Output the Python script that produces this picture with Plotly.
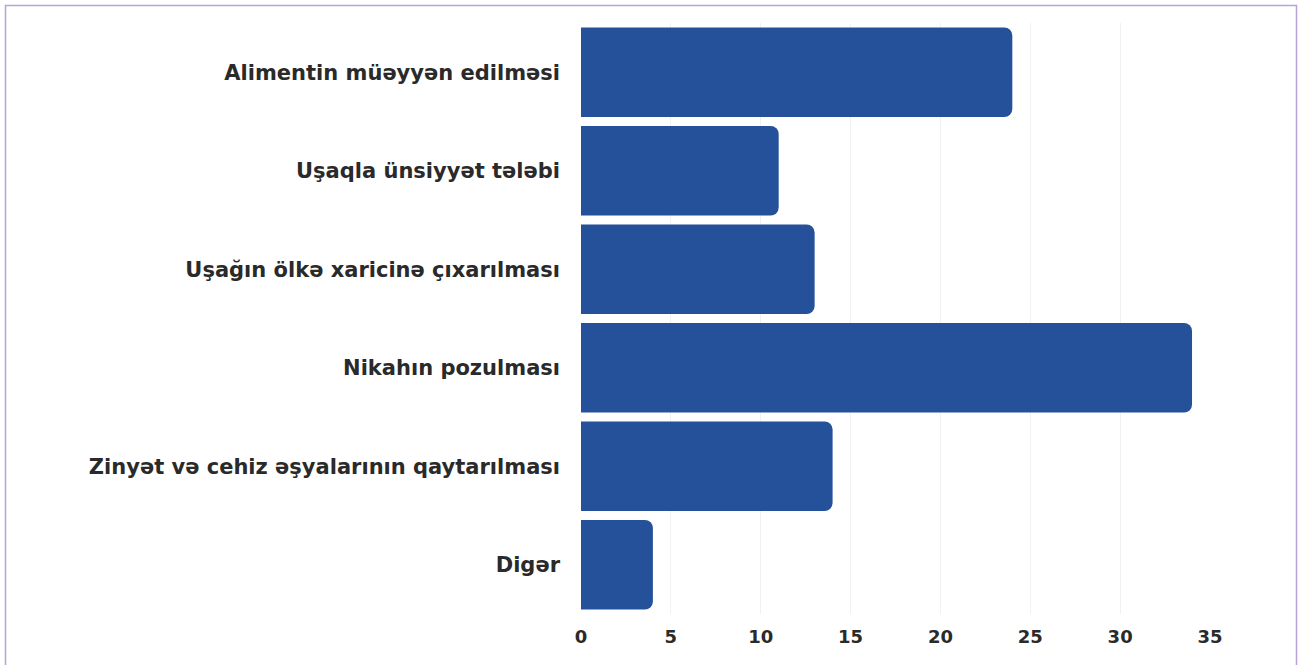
import plotly.graph_objects as go

categories = [
    "Alimentin müəyyən edilməsi",
    "Uşaqla ünsiyyət tələbi",
    "Uşağın ölkə xaricinə çıxarılması",
    "Nikahın pozulması",
    "Zinyət və cehiz əşyalarının qaytarılması",
    "Digər",
]
values = [24, 11, 13, 34, 14, 4]
x_ticks = [0, 5, 10, 15, 20, 25, 30, 35]

W, H = 1299, 665
L, R, T, B = 581, 89, 23, 51

fig = go.Figure(go.Bar(
    x=values, y=categories, orientation="h",
    marker=dict(color="#25509a", cornerradius=8, line=dict(width=0)),
    width=0.91,
))

def px_x(p):
    return (p - L) / (W - L - R)

def px_y(p):
    return ((H - B) - p) / (H - T - B)

fig.add_shape(type="rect", xref="paper", yref="paper",
              x0=px_x(5.5), x1=px_x(1296.5), y0=px_y(700), y1=px_y(5.5),
              line=dict(color="#b8a2d9", width=1.5), layer="below")

FAM = "DejaVu Sans, Verdana, sans-serif"
fig.update_layout(
    width=W, height=H,
    margin=dict(l=L, r=R, t=T, b=B),
    paper_bgcolor="white", plot_bgcolor="white",
    showlegend=False,
    font=dict(family=FAM, size=17, color="#2a2a2a"),
    xaxis=dict(range=[0, 35], tickvals=x_ticks, showgrid=True, gridcolor="#f1f1f1",
               zeroline=False, showline=False, ticks="", ticklabelstandoff=10,
               tickfont=dict(family=FAM, size=18, color="#2a2a2a", weight="bold")),
    yaxis=dict(categoryorder="array", categoryarray=categories[::-1], autorange=True,
               showgrid=False, zeroline=False, showline=False, ticks="", ticklabelstandoff=20,
               tickfont=dict(family=FAM, size=21, color="#2a2a2a", weight="bold")),
    bargap=0.09,
)
fig.write_html("out.html", config={"displayModeBar": False},
               post_script="document.body.style.margin='0';document.body.style.overflow='hidden';")
